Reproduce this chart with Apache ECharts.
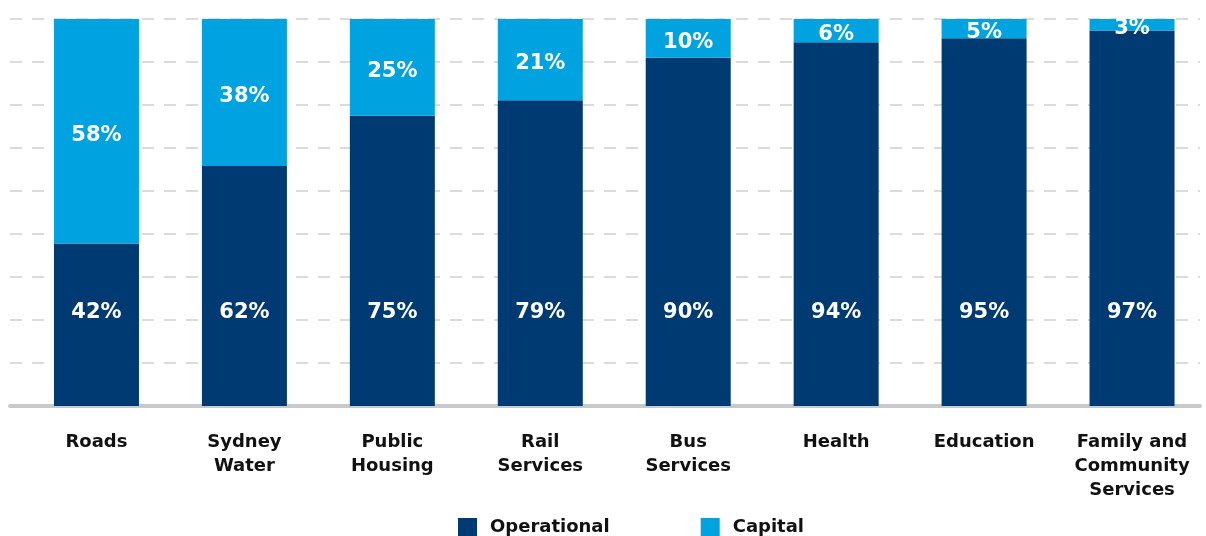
<!DOCTYPE html>
<html><head><meta charset="utf-8">
<script src="https://cdn.jsdelivr.net/npm/echarts@6/dist/echarts.min.js"></script>
<style>html,body{margin:0;padding:0;background:#fff}#c{width:1206px;height:536px}</style>
</head><body><div id="c"></div>
<script>
const categories = ['Roads', 'Sydney\nWater', 'Public\nHousing', 'Rail\nServices', 'Bus\nServices', 'Health', 'Education', 'Family and\nCommunity\nServices'];
const operational = [42, 62, 75, 79, 90, 94, 95, 97];
const capital = [58, 38, 25, 21, 10, 6, 5, 3];
const seriesNames = ['Operational', 'Capital'];

const FONT = '"DejaVu Sans", sans-serif';
const chart = echarts.init(document.getElementById('c'), null, {renderer: 'canvas'});
chart.setOption({
  animation: false,
  textStyle: {fontFamily: FONT},
  grid: [
    {left: 10, right: 6, top: 19, bottom: 130},
    {left: 22.5, right: -0.5, top: 19, bottom: 130}
  ],
  xAxis: [
    {gridIndex: 0, type: 'category', data: [''], axisTick: {show: false}, axisLabel: {show: false},
     axisLine: {show: true, lineStyle: {color: '#c8c9cc', width: 4}}, z: 1},
    {gridIndex: 1, type: 'category', data: categories, axisTick: {show: false}, axisLine: {show: false},
     axisLabel: {margin: 24, fontFamily: FONT, fontWeight: 'bold', fontSize: 18, lineHeight: 24, color: '#111', interval: 0}}
  ],
  yAxis: [
    {gridIndex: 0, type: 'value', min: 0, max: 100, interval: 100 / 9, axisLabel: {show: false},
     axisLine: {show: false}, axisTick: {show: false},
     splitLine: {show: true, lineStyle: {color: '#cfcfcf', width: 1.5, type: [12, 10]}}},
    {gridIndex: 1, type: 'value', min: 0, max: 100, show: false, splitLine: {show: false}}
  ],
  legend: {
    data: seriesNames, bottom: -6, left: 453, icon: 'rect', itemWidth: 19, itemHeight: 19, itemGap: 91,
    textStyle: {fontFamily: FONT, fontWeight: 'bold', fontSize: 18, color: '#111', padding: [0, 0, 0, 8]}
  },
  series: [
    {name: seriesNames[0], type: 'bar', stack: 'a', xAxisIndex: 1, yAxisIndex: 1, barWidth: 85, data: operational,
     itemStyle: {color: '#003A72'}, z: 3,
     label: {show: true, position: 'insideBottom', distance: 83, formatter: '{c}%', color: '#fff', fontFamily: FONT, fontWeight: 'bold', fontSize: 21}},
    {name: seriesNames[1], type: 'bar', stack: 'a', xAxisIndex: 1, yAxisIndex: 1, barWidth: 85, data: capital,
     itemStyle: {color: '#00A3E0'}, z: 3,
     label: {show: true, position: 'inside', offset: [0, 4], formatter: '{c}%', color: '#fff', fontFamily: FONT, fontWeight: 'bold', fontSize: 21}}
  ]
});
</script></body></html>
